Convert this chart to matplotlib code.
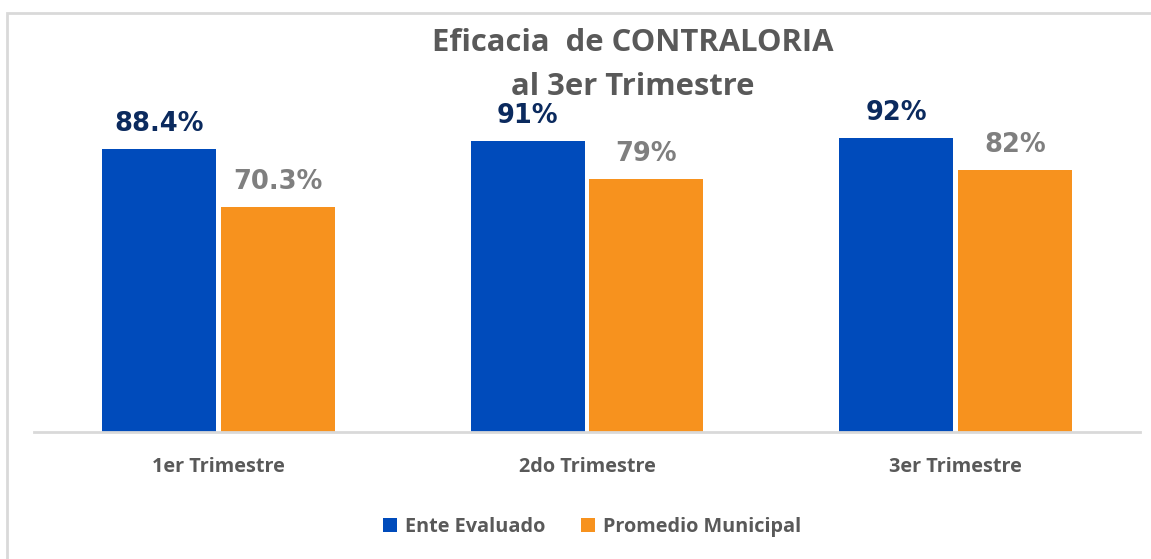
import matplotlib.pyplot as plt
import numpy as np
from matplotlib.patches import Rectangle

categorias = ["1er Trimestre", "2do Trimestre", "3er Trimestre"]
ente = [88.4, 91, 92]
promedio = [70.3, 79, 82]
etiquetas_ente = ["88.4%", "91%", "92%"]
etiquetas_prom = ["70.3%", "79%", "82%"]

azul = "#004BBB"
naranja = "#F7921E"
gris = "#595959"
fuente = "Open Sans"

fig = plt.figure(figsize=(11.51, 5.59), dpi=100)
fig.patch.set_facecolor("white")
# marco del gráfico
fig.patches.append(Rectangle((7 / 1151, -0.1), 1.2, 1 - 13 / 559 + 0.1,
                             transform=fig.transFigure, fill=False,
                             edgecolor="#D9D9D9", linewidth=2))

ax = fig.add_axes([34 / 1151, 1 - 432 / 559, 1106 / 1151, 320 / 559])
x = np.arange(len(categorias))
w = 0.309
off = 0.161
b1 = ax.bar(x - off, ente, w, color=azul, label="Ente Evaluado")
b2 = ax.bar(x + off, promedio, w, color=naranja, label="Promedio Municipal")

for xi, v, t in zip(x, ente, etiquetas_ente):
    ax.annotate(t, (xi - off, v), xytext=(0, 18), textcoords="offset points",
                ha="center", va="center", fontsize=18.5, fontweight="bold",
                color="#0B2A5E", family="DejaVu Sans")
for xi, v, t in zip(x, promedio, etiquetas_prom):
    ax.annotate(t, (xi + off, v), xytext=(0, 18), textcoords="offset points",
                ha="center", va="center", fontsize=18.5, fontweight="bold",
                color="#7F7F7F", family="DejaVu Sans")

ax.set_xlim(-0.5, 2.5)
ax.set_ylim(0, 100)
for s in ["top", "right", "left"]:
    ax.spines[s].set_visible(False)
ax.spines["bottom"].set_color("#D9D9D9")
ax.spines["bottom"].set_linewidth(2)
ax.set_yticks([])
ax.set_xticks(x)
ax.set_xticklabels(categorias, fontsize=14.3, color=gris, fontweight="bold",
                   family=fuente)
ax.tick_params(axis="x", length=0, pad=18)

fig.text(633 / 1151, 1 - 43 / 559, "Eficacia  de CONTRALORIA", ha="center",
         va="center", fontsize=22.3, fontweight="bold", color=gris, family=fuente)
fig.text(633 / 1151, 1 - 87 / 559, "al 3er Trimestre", ha="center",
         va="center", fontsize=22.3, fontweight="bold", color=gris, family=fuente)

leg = fig.legend(handles=[b1, b2], loc="center", bbox_to_anchor=(592 / 1151, 1 - 527 / 559),
                 ncol=2, frameon=False, handlelength=0.7, handleheight=0.7,
                 handletextpad=0.4, columnspacing=1.8,
                 prop={"family": fuente, "weight": "bold", "size": 14.3})
for t in leg.get_texts():
    t.set_color(gris)

fig.savefig("out.png", dpi=100)
